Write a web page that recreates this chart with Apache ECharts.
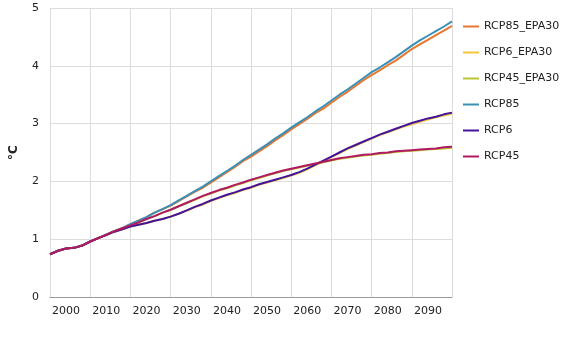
<!DOCTYPE html>
<html>
<head>
<meta charset="utf-8">
<script src="https://cdn.jsdelivr.net/npm/echarts@6/dist/echarts.min.js"></script>
<style>
html,body{margin:0;padding:0;background:#fff;}
#chart{width:570px;height:337px;}
</style>
</head>
<body>
<div id="chart"></div>
<script>
var years = [1996,1998,2000,2002,2004,2006,2008,2010,2012,2014,2016,2018,2020,2022,2024,2026,2028,2030,2032,2034,2036,2038,2040,2042,2044,2046,2048,2050,2052,2054,2056,2058,2060,2062,2064,2066,2068,2070,2072,2074,2076,2078,2080,2082,2084,2086,2088,2090,2092,2094,2096];

var rcp85 = [0.74,0.80,0.84,0.85,0.89,0.96,1.02,1.08,1.14,1.19,1.26,1.32,1.38,1.46,1.52,1.59,1.67,1.75,1.83,1.91,2.00,2.09,2.18,2.27,2.37,2.46,2.55,2.64,2.74,2.83,2.93,3.02,3.11,3.21,3.30,3.40,3.50,3.59,3.69,3.79,3.89,3.97,4.06,4.15,4.25,4.35,4.44,4.52,4.60,4.68,4.77];
var rcp85_epa30 = [0.74,0.80,0.84,0.85,0.89,0.96,1.02,1.08,1.14,1.19,1.26,1.32,1.38,1.46,1.52,1.58,1.66,1.74,1.82,1.89,1.98,2.07,2.16,2.25,2.35,2.43,2.52,2.61,2.71,2.80,2.90,2.99,3.08,3.18,3.26,3.36,3.46,3.55,3.65,3.75,3.84,3.92,4.01,4.09,4.19,4.29,4.37,4.45,4.53,4.61,4.69];
var rcp6 = [0.74,0.80,0.84,0.85,0.89,0.96,1.02,1.07,1.13,1.17,1.22,1.25,1.28,1.32,1.35,1.39,1.44,1.50,1.56,1.61,1.67,1.72,1.77,1.81,1.86,1.90,1.95,1.99,2.03,2.07,2.11,2.16,2.22,2.29,2.36,2.43,2.50,2.57,2.63,2.69,2.75,2.81,2.86,2.91,2.96,3.01,3.05,3.09,3.12,3.16,3.19];
var rcp6_epa30 = [0.74,0.80,0.84,0.85,0.89,0.96,1.02,1.07,1.13,1.17,1.22,1.25,1.28,1.32,1.35,1.39,1.44,1.49,1.55,1.60,1.66,1.71,1.76,1.80,1.85,1.89,1.94,1.98,2.02,2.06,2.10,2.15,2.21,2.28,2.35,2.42,2.49,2.56,2.62,2.68,2.74,2.80,2.85,2.90,2.95,2.99,3.03,3.07,3.11,3.14,3.17];
var rcp45 = [0.74,0.80,0.84,0.85,0.89,0.96,1.02,1.08,1.14,1.19,1.24,1.29,1.35,1.40,1.46,1.51,1.57,1.63,1.69,1.75,1.80,1.85,1.89,1.94,1.98,2.03,2.07,2.11,2.15,2.19,2.22,2.25,2.28,2.31,2.34,2.37,2.40,2.42,2.44,2.46,2.47,2.49,2.50,2.52,2.53,2.54,2.55,2.56,2.57,2.59,2.60];
var rcp45_epa30 = [0.74,0.80,0.84,0.85,0.89,0.96,1.02,1.08,1.14,1.19,1.24,1.29,1.35,1.40,1.46,1.51,1.57,1.62,1.68,1.74,1.79,1.84,1.88,1.93,1.97,2.02,2.06,2.10,2.14,2.18,2.21,2.24,2.27,2.30,2.33,2.36,2.39,2.41,2.43,2.45,2.46,2.48,2.49,2.51,2.52,2.53,2.54,2.55,2.56,2.57,2.58];

var xLabelYears = [2000,2010,2020,2030,2040,2050,2060,2070,2080,2090];
var gridYears = ['1996','2006','2016','2026','2036','2046','2056','2066','2076','2086','2096'];
var seriesNames = ['RCP85_EPA30','RCP6_EPA30','RCP45_EPA30','RCP85','RCP6','RCP45'];
var seriesValues = [rcp85_epa30, rcp6_epa30, rcp45_epa30, rcp85, rcp6, rcp45];
var seriesColors = ['#e8772e','#f4c73a','#b9c631','#3a8fb7','#44139c','#b01a63'];

function pairs(vals){
  return years.map(function(y,i){ return [y, vals[i]]; });
}

var FONT = '"DejaVu Sans", Verdana, sans-serif';
var chart = echarts.init(document.getElementById('chart'), null, {renderer:'canvas'});
chart.setOption({
  animation: false,
  backgroundColor: '#ffffff',
  grid: {left: 43, right: 118, top: 8, bottom: 40},
  legend: {
    orient: 'vertical',
    left: 458,
    top: 16,
    itemWidth: 16,
    itemHeight: 2,
    itemGap: 15,
    icon: 'rect',
    textStyle: {fontFamily: FONT, fontSize: 11, color: '#222'},
    data: seriesNames
  },
  xAxis: [{
    type: 'value',
    min: 1996,
    max: 2096,
    interval: 10,
    axisLine: {show: true, lineStyle: {color: '#999', width: 1}},
    axisTick: {show: false},
    splitLine: {show: false},
    axisLabel: {
      customValues: xLabelYears,
      formatter: function(v){ return String(v); },
      margin: 9,
      fontFamily: FONT,
      fontSize: 11,
      color: '#222'
    },
    z: 3
  }, {
    type: 'category',
    data: gridYears,
    boundaryGap: false,
    position: 'bottom',
    axisLine: {show: false},
    axisTick: {show: false},
    axisLabel: {show: false},
    splitLine: {show: true, interval: 0, lineStyle: {color: '#dcdcdc', width: 1}}
  }],
  yAxis: {
    type: 'value',
    min: 0,
    max: 5,
    interval: 1,
    name: '°C',
    nameLocation: 'middle',
    nameGap: 30,
    nameRotate: 90,
    nameTextStyle: {fontFamily: FONT, fontSize: 12, fontWeight: 'bold', color: '#222'},
    axisLine: {show: false},
    axisTick: {show: false},
    splitLine: {show: true, lineStyle: {color: '#dcdcdc', width: 1}},
    axisLabel: {margin: 11, fontFamily: FONT, fontSize: 11, color: '#222'}
  },
  series: seriesNames.map(function(n, i){
    return {
      name: n,
      type: 'line',
      xAxisIndex: 0,
      data: pairs(seriesValues[i]),
      showSymbol: false,
      symbol: 'none',
      color: seriesColors[i],
      lineStyle: {width: 2, color: seriesColors[i]},
      emphasis: {disabled: true}
    };
  })
});
</script>
</body>
</html>
